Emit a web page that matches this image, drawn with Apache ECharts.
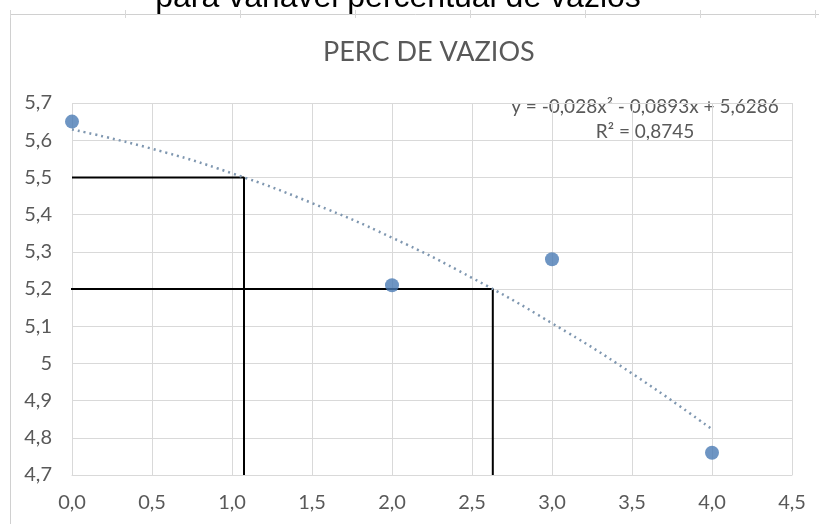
<!DOCTYPE html>
<html><head><meta charset="utf-8">
<script src="https://cdn.jsdelivr.net/npm/echarts@6/dist/echarts.min.js"></script>
<style>html,body{margin:0;padding:0;background:#fff}#c{width:819px;height:524px}</style>
</head><body><div id="c"></div>
<script>
// Data
const pointsX = [0, 2, 3, 4];
const pointsY = [5.65, 5.21, 5.28, 4.76];
// trendline (polynomial order 2)
const trendX = [0, 0.5, 1.0, 1.5, 2.0, 2.5, 3.0, 3.5, 4.0];
const trendY = [5.629, 5.577, 5.511, 5.431, 5.338, 5.230, 5.108, 4.973, 4.823];
// black guide lines
const guide1 = [[0, 5.5], [1.075, 5.5], [1.075, 4.7]];
const guide2 = [[-0.01, 5.2], [2.63, 5.2], [2.63, 4.7]];
const titleText = 'PERC DE VAZIOS';
const topText = 'para variável percentual de vazios';
const eqText = 'y = -0,028x² - 0,0893x + 5,6286';
const r2Text = 'R² = 0,8745';

const FONT = 'Lato, "Open Sans", sans-serif';
const chart = echarts.init(document.getElementById('c'));
const rulerTicks = [10, 125, 240, 355, 470, 585, 700, 815];
const graphics = [
  {type:'rect', shape:{x:10.5, y:14.5, width:820, height:530}, style:{fill:'none', stroke:'#d0d0d0', lineWidth:1}, z:0},
  {type:'text', x:398, y:-18, style:{text:topText, font:'32px "Liberation Sans", Arial, sans-serif', fill:'#000', align:'center'}},
  {type:'text', x:645, y:107, style:{text:eqText, font:'19px ' + FONT, fill:'#595959', align:'center', verticalAlign:'middle'}},
  {type:'text', x:645, y:132, style:{text:r2Text, font:'19px ' + FONT, fill:'#595959', align:'center', verticalAlign:'middle'}}
];
rulerTicks.forEach(x => graphics.push({type:'line', shape:{x1:x+0.5,y1:10,x2:x+0.5,y2:18}, style:{stroke:'#d8d8d8', lineWidth:1}}));

chart.setOption({
  animation:false,
  backgroundColor:'#fff',
  title:{text:titleText, left:318, top:34, textStyle:{fontFamily:FONT, fontSize:27, fontWeight:'normal', color:'#595959'}},
  grid:{left:72, right:27, top:103, bottom:49},
  xAxis:{type:'value', min:0, max:4.5, interval:0.5,
    axisLine:{show:true, lineStyle:{color:'#d9d9d9'}}, axisTick:{show:false},
    splitLine:{show:true, lineStyle:{color:'#d9d9d9'}},
    axisLabel:{margin:18, color:'#595959', fontSize:20, fontFamily:FONT, formatter:v=>v.toFixed(1).replace('.', ',')}},
  yAxis:{type:'value', min:4.7, max:5.7, interval:0.1,
    axisLine:{show:false}, axisTick:{show:false},
    splitLine:{show:true, lineStyle:{color:'#d9d9d9'}},
    axisLabel:{margin:20, color:'#595959', fontSize:20, fontFamily:FONT, formatter:v=>String(Math.round(v*10)/10).replace('.', ',')}},
  series:[
    {type:'line', data:guide1, symbol:'none', lineStyle:{color:'#000', width:2}, z:3},
    {type:'line', data:guide2, symbol:'none', lineStyle:{color:'#000', width:2}, z:3},
    {type:'line', data:trendX.map((x,i)=>[x, trendY[i]]), smooth:true, symbol:'none',
      lineStyle:{color:'#7f97b0', width:2.5, type:[2,4]}, z:4},
    {type:'scatter', data:pointsX.map((x,i)=>[x, pointsY[i]]), symbolSize:14,
      itemStyle:{color:'#4a7ab4'}, z:5}
  ],
  graphic:graphics
});
</script></body></html>
